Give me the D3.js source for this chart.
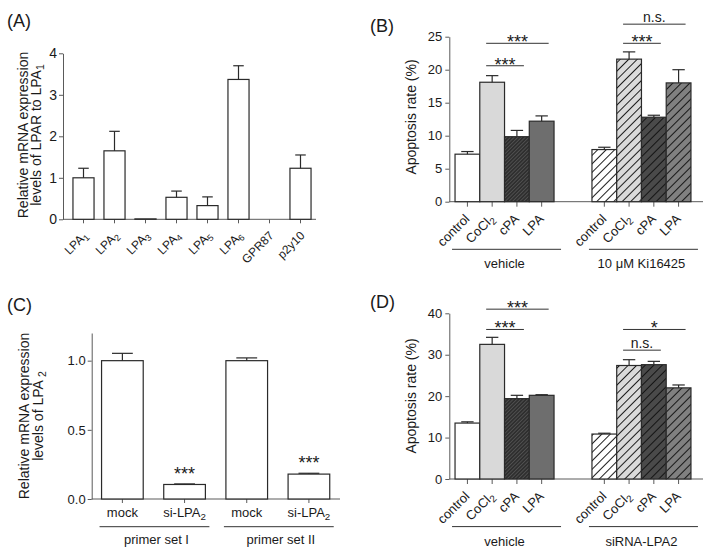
<!DOCTYPE html>
<html>
<head>
<meta charset="utf-8">
<script src="https://cdn.jsdelivr.net/npm/d3@7"></script>
<style>
  body { margin: 0; background: #fff; }
  text { font-family: "Liberation Sans", Arial, sans-serif; fill: #1a1a1a; }
</style>
</head>
<body>
<svg width="713" height="557"></svg>
<script>
// (A) receptor expression
const receptorLabels = ['LPA_1', 'LPA_2', 'LPA_3', 'LPA_4', 'LPA_5', 'LPA_6', 'GPR87', 'p2y10'];
const receptorMean = [1.0, 1.65, 0.01, 0.53, 0.33, 3.37, 0, 1.23];
const receptorErr = [0.23, 0.47, 0, 0.15, 0.21, 0.33, 0, 0.32];

// (B) / (D) apoptosis
const treatLabels = ['control', 'CoCl_2', 'cPA', 'LPA'];
const bGroups = ['vehicle', '10 \u03bcM  Ki16425'];
const bMean = [[7.2, 18.1, 9.85, 12.2], [7.9, 21.6, 12.8, 18.0]];
const bErr = [[0.4, 1.0, 0.95, 0.8], [0.35, 1.1, 0.3, 2.0]];
const bSig = [
  {g: 0, from: 1, to: 3, label: '***', at: 24.0},
  {g: 0, from: 1, to: 2, label: '***', at: 20.6},
  {g: 1, from: 1, to: 2, label: '***', at: 24.0},
  {g: 1, from: 1, to: 3, label: 'n.s.', at: 26.9}
];
const dGroups = ['vehicle', 'siRNA-LPA2'];
const dMean = [[13.5, 32.5, 19.4, 20.2], [10.85, 27.4, 27.6, 22.0]];
const dErr = [[0.3, 1.7, 0.8, 0.15], [0.2, 1.4, 0.8, 0.7]];
const dSig = [
  {g: 0, from: 1, to: 3, label: '***', at: 41.0},
  {g: 0, from: 1, to: 2, label: '***', at: 36.1},
  {g: 1, from: 1, to: 3, label: '*', at: 36.1},
  {g: 1, from: 1, to: 2, label: 'n.s.', at: 31.1}
];

// (C) knockdown
const knockLabels = ['mock', 'si-LPA_2', 'mock', 'si-LPA_2'];
const knockMean = [1.0, 0.105, 1.0, 0.18];
const knockErr = [0.053, 0.004, 0.02, 0.006];
const knockSig = ['', '***', '', '***'];
const primerGroups = ['primer set I', 'primer set II'];

const svg = d3.select('svg');
const FONT = '"Liberation Sans", Arial, sans-serif';
const AX = '#5a5a5a', EDGE = '#2a2a2a';

// patterns
const defs = svg.append('defs');
function hatch(id, bg, fg, gap, w) {
  const p = defs.append('pattern').attr('id', id).attr('patternUnits', 'userSpaceOnUse')
    .attr('width', gap).attr('height', gap).attr('patternTransform', 'rotate(45)');
  p.append('rect').attr('width', gap).attr('height', gap).attr('fill', bg);
  p.append('line').attr('x1', 0).attr('y1', 0).attr('x2', 0).attr('y2', gap)
    .attr('stroke', fg).attr('stroke-width', w);
}
hatch('fine', '#2f2f2f', '#6a6a6a', 2.6, 1);
hatch('hW', '#ffffff', '#111', 6, 1.9);
hatch('hL', '#dadada', '#111', 6, 1.9);
hatch('hD', '#4a4a4a', '#111', 6, 1.9);
hatch('hM', '#808080', '#111', 6, 1.9);
const groupFills = [
  ['#ffffff', '#d9d9d9', 'url(#fine)', '#6e6e6e'],
  ['url(#hW)', 'url(#hL)', 'url(#hD)', 'url(#hM)']
];

function rich(t, s) {
  const parts = s.split('_');
  t.text(null);
  t.append('tspan').text(parts[0]);
  if (parts[1] !== undefined) t.append('tspan').attr('dy', '0.3em').attr('font-size', '75%').text(parts[1]);
}
function styleAxis(g) {
  g.attr('font-family', FONT).attr('font-size', 13);
  g.selectAll('path, line').attr('stroke', AX).attr('stroke-width', 1);
  g.selectAll('text').attr('fill', '#1a1a1a');
}
function panelLabel(s, x, y) {
  svg.append('text').attr('x', x).attr('y', y).attr('font-size', 18).text(s);
}
function errBar(g, cx, yTop, yErr, half) {
  if (yErr >= yTop - 0.5) return;
  g.append('line').attr('x1', cx).attr('x2', cx).attr('y1', yTop).attr('y2', yErr).attr('stroke', EDGE).attr('stroke-width', 1.2);
  g.append('line').attr('x1', cx - half).attr('x2', cx + half).attr('y1', yErr).attr('y2', yErr).attr('stroke', EDGE).attr('stroke-width', 1.2);
}
function yTitle(lines, x0, yc, lh) {
  lines.forEach((s, i) => {
    const t = svg.append('text').attr('transform', `translate(${x0 + i * lh},${yc}) rotate(-90)`)
      .attr('text-anchor', 'middle').attr('font-size', 14);
    rich(t, s);
  });
}

// ---------- (A) ----------
panelLabel('(A)', 7, 27);
{
  const y = d3.scaleLinear().domain([0, 4]).range([219.3, 53.3]);
  const x = d3.scaleBand().domain(receptorLabels).range([68, 316]).paddingInner(0.32).paddingOuter(0.16);
  const g = svg.append('g');
  g.append('g').attr('transform', 'translate(63,0)')
    .call(d3.axisLeft(y).ticks(4).tickSize(4).tickPadding(2).tickSizeOuter(0)).call(styleAxis)
    .selectAll('text').attr('font-size', 14);
  const xa = g.append('g').attr('transform', `translate(0,${y(0)})`)
    .call(d3.axisBottom(x).tickSize(4).tickFormat('')).call(styleAxis);
  xa.select('.domain').remove();
  g.append('line').attr('x1', 63).attr('x2', 316).attr('y1', y(0)).attr('y2', y(0)).attr('stroke', AX);
  const bw = x.bandwidth();
  receptorLabels.forEach((c, i) => {
    const v = receptorMean[i];
    if (v > 0) {
      g.append('rect').attr('x', x(c)).attr('y', y(v)).attr('width', bw).attr('height', y(0) - y(v))
        .attr('fill', '#fff').attr('stroke', EDGE).attr('stroke-width', 1.2);
      errBar(g, x(c) + bw / 2, y(v), y(v + receptorErr[i]), bw / 4);
    }
    const t = g.append('text').attr('text-anchor', 'end').attr('font-size', 12)
      .attr('transform', `translate(${x(c) + bw / 2 + 5},${y(0) + 17}) rotate(-45)`);
    rich(t, c);
  });
  yTitle(['Relative mRNA expression', 'levels of LPAR to LPA_1'], 28, 135, 13);
}

// ---------- (B) / (D) ----------
function starText(g, x, yLine, label) {
  const isStar = label.indexOf('*') >= 0;
  g.append('text').attr('x', x).attr('y', isStar ? yLine + 5 : yLine - 2)
    .attr('text-anchor', 'middle').attr('font-size', isStar ? 18 : 14).text(label);
}
function groupedPanel(o) {
  const y = d3.scaleLinear().domain([0, o.yMax]).range([o.yBottom, o.yTop]);
  const gx = d3.scaleBand().domain(o.groups).range([446, 700]).paddingInner(0.277).paddingOuter(0.066);
  const ix = d3.scaleBand().domain(treatLabels).range([0, gx.bandwidth()]);
  const bw = ix.bandwidth();
  const cx = (gi, c) => gx(o.groups[gi]) + ix(c) + bw / 2;
  const g = svg.append('g');
  g.append('g').attr('transform', 'translate(449.3,0)')
    .call(d3.axisLeft(y).ticks(o.ticks).tickSize(4).tickPadding(3).tickSizeOuter(0)).call(styleAxis);
  g.append('line').attr('x1', 449.3).attr('x2', 703).attr('y1', y(0)).attr('y2', y(0)).attr('stroke', AX);
  o.groups.forEach((grp, gi) => {
    const x0 = gx(grp);
    const xa = g.append('g').attr('transform', `translate(${x0},${y(0)})`)
      .call(d3.axisBottom(ix).tickSize(5).tickFormat('')).call(styleAxis);
    xa.select('.domain').remove();
    treatLabels.forEach((c, ci) => {
      const v = o.mean[gi][ci];
      g.append('rect').attr('x', x0 + ix(c)).attr('y', y(v)).attr('width', bw).attr('height', y(0) - y(v))
        .attr('fill', groupFills[gi][ci]).attr('stroke', EDGE).attr('stroke-width', 1.2);
      errBar(g, cx(gi, c), y(v), y(v + o.err[gi][ci]), bw / 4);
      const t = g.append('text').attr('text-anchor', 'end').attr('font-size', 13)
        .attr('transform', `translate(${cx(gi, c) + 3},${y(0) + 18}) rotate(-45)`);
      rich(t, c);
    });
    const ly = y(0) + 47.6;
    g.append('line').attr('x1', x0 - 3).attr('x2', x0 + gx.bandwidth() + 7).attr('y1', ly).attr('y2', ly)
      .attr('stroke', '#333');
    g.append('text').attr('x', x0 + gx.bandwidth() / 2).attr('y', ly + 19).attr('text-anchor', 'middle')
      .attr('font-size', 13).text(grp);
  });
  o.sig.forEach(s => {
    const x1 = cx(s.g, treatLabels[s.from]) - 6, x2 = cx(s.g, treatLabels[s.to]) + 7;
    const yy = y(s.at);
    g.append('line').attr('x1', x1).attr('x2', x2).attr('y1', yy).attr('y2', yy).attr('stroke', '#333');
    starText(g, (x1 + x2) / 2, yy, s.label);
  });
  yTitle(['Apoptosis rate (%)'], 416, o.titleY, 0);
}
panelLabel('(B)', 370, 32);
groupedPanel({yMax: 25, yBottom: 201.7, yTop: 36.7, ticks: 5, groups: bGroups, mean: bMean, err: bErr, sig: bSig, titleY: 117});
panelLabel('(D)', 370, 308);
groupedPanel({yMax: 40, yBottom: 479, yTop: 313.3, ticks: 4, groups: dGroups, mean: dMean, err: dErr, sig: dSig, titleY: 396});

// ---------- (C) ----------
panelLabel('(C)', 7, 311);
{
  const y = d3.scaleLinear().domain([0, 1.2]).range([499, 333]);
  const idx = knockLabels.map((d, i) => i);
  const x = d3.scaleBand().domain(idx).range([91.3, 340]).paddingInner(0.33).paddingOuter(0.165);
  const bw = x.bandwidth();
  const g = svg.append('g');
  g.append('g').attr('transform', 'translate(91.7,0)')
    .call(d3.axisLeft(y).tickValues([0, 0.5, 1.0]).tickFormat(d3.format('.1f')).tickSize(4).tickPadding(2).tickSizeOuter(0))
    .call(styleAxis);
  const xa = g.append('g').attr('transform', `translate(0,${y(0)})`)
    .call(d3.axisBottom(x).tickSize(4).tickFormat('')).call(styleAxis);
  xa.select('.domain').remove();
  g.append('line').attr('x1', 91.7).attr('x2', 340).attr('y1', y(0)).attr('y2', y(0)).attr('stroke', AX);
  idx.forEach(i => {
    const v = knockMean[i], c = x(i) + bw / 2;
    g.append('rect').attr('x', x(i)).attr('y', y(v)).attr('width', bw).attr('height', y(0) - y(v))
      .attr('fill', '#fff').attr('stroke', EDGE).attr('stroke-width', 1.2);
    errBar(g, c, y(v), y(v + knockErr[i]), bw / 4);
    if (knockSig[i]) g.append('text').attr('x', c).attr('y', y(v + knockErr[i]) - 4).attr('text-anchor', 'middle')
      .attr('font-size', 18).text(knockSig[i]);
    const t = g.append('text').attr('x', c).attr('y', y(0) + 18).attr('text-anchor', 'middle').attr('font-size', 13);
    rich(t, knockLabels[i]);
  });
  primerGroups.forEach((p, gi) => {
    const xl = x(gi * 2) - 2, xr = x(gi * 2 + 1) + bw + 4, ly = y(0) + 27.7;
    g.append('line').attr('x1', xl).attr('x2', xr).attr('y1', ly).attr('y2', ly).attr('stroke', '#333');
    g.append('text').attr('x', (xl + xr) / 2 + 2).attr('y', ly + 17).attr('text-anchor', 'middle').attr('font-size', 13).text(p);
  });
  yTitle(['Relative mRNA expression', 'levels of LPA _2'], 29, 416, 14);
}
</script>
</body>
</html>
